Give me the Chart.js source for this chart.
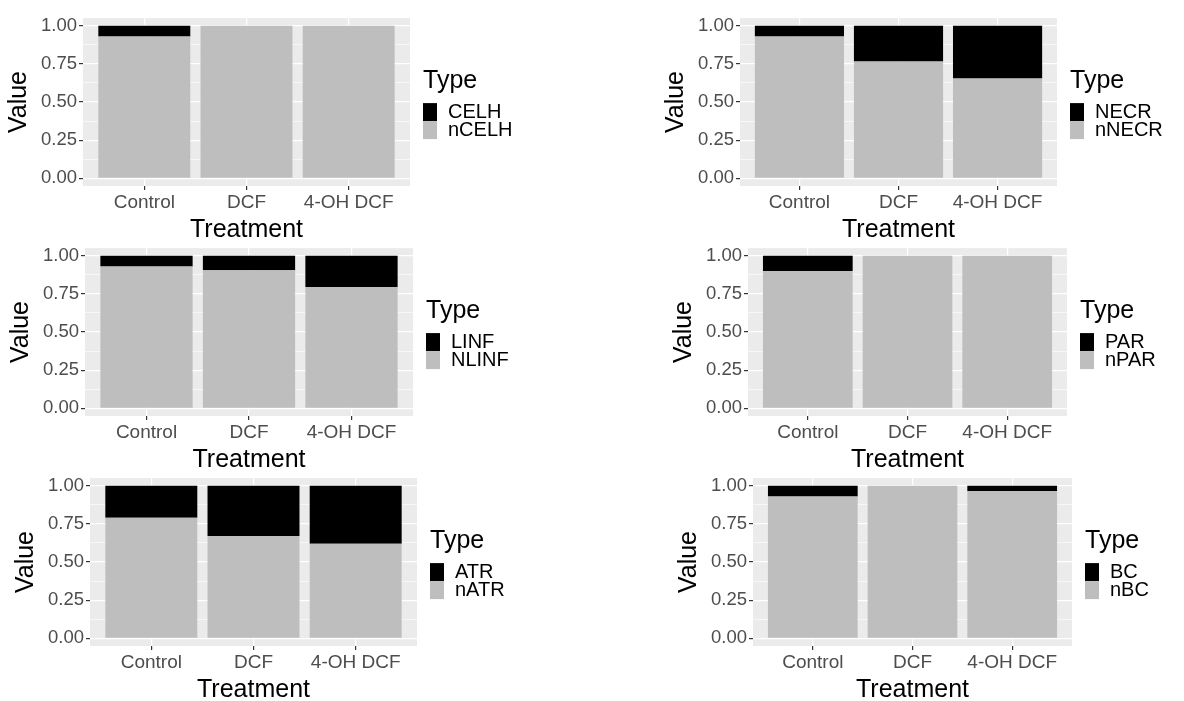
<!DOCTYPE html>
<html>
<head>
<meta charset="utf-8">
<title>Type by Treatment</title>
<script src="https://cdn.jsdelivr.net/npm/chart.js@4.4.1/dist/chart.umd.min.js"></script>
<style>
  body { margin: 0; background: #fff; }
  #panel { position: relative; width: 1184px; height: 701px; overflow: hidden; }
  canvas { position: absolute; }
</style>
</head>
<body>
<div id="panel">
  <canvas id="celhChart"></canvas>
  <canvas id="necrChart"></canvas>
  <canvas id="linfChart"></canvas>
  <canvas id="parChart"></canvas>
  <canvas id="atrChart"></canvas>
  <canvas id="bcChart"></canvas>
</div>
<script>
// Data (proportions per treatment)
const treatments = ['Control', 'DCF', '4-OH DCF'];

const celh = [0.07, 0, 0];
const nCelh = [0.93, 1, 1];

const necr = [0.07, 0.235, 0.345];
const nNecr = [0.93, 0.765, 0.655];

const linf = [0.07, 0.095, 0.205];
const nLinf = [0.93, 0.905, 0.795];

const par = [0.10, 0, 0];
const nPar = [0.90, 1, 1];

const atr = [0.21, 0.33, 0.38];
const nAtr = [0.79, 0.67, 0.62];

const bc = [0.07, 0, 0.035];
const nBc = [0.93, 1, 0.965];

const yTicks = [0, 0.25, 0.5, 0.75, 1];
const yTickLabels = ['0.00', '0.25', '0.50', '0.75', '1.00'];

// Layout constants (px)
const AXIS_Y_W = 83;
const AXIS_X_H = 60;
const TOP_PAD = 10;
const LEGEND_W = 140;
const FONT = '"Liberation Sans", Arial, sans-serif';

Chart.defaults.font.family = FONT;

function isMajor(v) {
    return yTicks.indexOf(v) >= 0;
}

// grey panel background like ggplot
const panelBackground = {
    id: 'panelBackground',
    beforeDraw(chart) {
        const { ctx, chartArea } = chart;
        ctx.save();
        ctx.fillStyle = '#EBEBEB';
        ctx.fillRect(chartArea.left, chartArea.top, chartArea.right - chartArea.left, chartArea.bottom - chartArea.top);
        ctx.restore();
    }
};

// "Type" legend on the right, top item = last dataset
const typeLegend = {
    id: 'typeLegend',
    afterDraw(chart) {
        const { ctx, chartArea } = chart;
        const x = chartArea.right + 13;
        let y = chartArea.top + 85;
        ctx.save();
        ctx.textBaseline = 'middle';
        ctx.textAlign = 'left';
        ctx.fillStyle = '#000';
        ctx.font = '25px ' + FONT;
        ctx.fillText('Type', x, chartArea.top + 63);
        ctx.font = '20px ' + FONT;
        chart.data.datasets.slice().reverse().forEach(ds => {
            ctx.fillStyle = ds.backgroundColor;
            ctx.fillRect(x, y, 14, 18);
            ctx.fillStyle = '#000';
            ctx.fillText(ds.label, x + 25, y + 9);
            y += 18;
        });
        ctx.restore();
    }
};

function makeChart(id, names, yes, no, area) {
    const [x0, y0, x1, y1] = area;
    const canvas = document.getElementById(id);
    canvas.width = (x1 - x0) + AXIS_Y_W + LEGEND_W;
    canvas.height = TOP_PAD + (y1 - y0) + AXIS_X_H;
    canvas.style.left = (x0 - AXIS_Y_W) + 'px';
    canvas.style.top = (y0 - TOP_PAD) + 'px';

    new Chart(canvas, {
        type: 'bar',
        data: {
            datasets: [
                {
                    label: names[1],
                    data: treatments.map((t, i) => ({ x: i + 1, y: no[i] })),
                    backgroundColor: '#BEBEBE'
                },
                {
                    label: names[0],
                    data: treatments.map((t, i) => ({ x: i + 1, y: yes[i] })),
                    backgroundColor: '#000000'
                }
            ]
        },
        options: {
            responsive: false,
            animation: false,
            events: [],
            barPercentage: 0.9,
            categoryPercentage: 1.0,
            borderWidth: 0,
            layout: { padding: { top: TOP_PAD, right: LEGEND_W, left: 0, bottom: 0 } },
            plugins: { legend: { display: false }, tooltip: { enabled: false } },
            scales: {
                x: {
                    type: 'linear',
                    stacked: true,
                    offset: false,
                    min: 0.4,
                    max: 3.6,
                    afterBuildTicks: (scale) => {
                        scale.ticks = treatments.map((t, i) => ({ value: i + 1 }));
                    },
                    afterFit: (scale) => { scale.height = AXIS_X_H; },
                    border: { display: false },
                    grid: { offset: false, color: '#FFFFFF', lineWidth: 1.2, tickColor: '#333333', tickLength: 4 },
                    ticks: {
                        autoSkip: false,
                        maxRotation: 0,
                        padding: 1,
                        color: '#4D4D4D',
                        font: { size: 19 },
                        callback: (v, i) => treatments[i]
                    },
                    title: {
                        display: true,
                        text: 'Treatment',
                        color: '#000',
                        font: { size: 25 },
                        padding: { top: 0, bottom: 1 }
                    }
                },
                y: {
                    stacked: true,
                    min: -0.05,
                    max: 1.05,
                    afterBuildTicks: (scale) => {
                        const t = [];
                        yTicks.forEach((v, i) => {
                            t.push({ value: v });
                            if (i < yTicks.length - 1) t.push({ value: (v + yTicks[i + 1]) / 2 });
                        });
                        scale.ticks = t;
                    },
                    afterFit: (scale) => { scale.width = AXIS_Y_W; },
                    border: { display: false },
                    grid: {
                        color: '#FFFFFF',
                        lineWidth: (c) => isMajor(c.tick.value) ? 1.2 : 0.6,
                        tickColor: (c) => isMajor(c.tick.value) ? '#333333' : 'rgba(0,0,0,0)',
                        tickLength: 4
                    },
                    ticks: {
                        autoSkip: false,
                        padding: 2,
                        color: '#4D4D4D',
                        font: { size: 18.5 },
                        callback: (v) => {
                            const k = yTicks.indexOf(v);
                            return k >= 0 ? yTickLabels[k] : '';
                        }
                    },
                    title: {
                        display: true,
                        text: 'Value',
                        color: '#000',
                        font: { size: 25 },
                        padding: { top: 4, bottom: 0 }
                    }
                }
            }
        },
        plugins: [panelBackground, typeLegend]
    });
}

// Six panels
makeChart('celhChart', ['CELH', 'nCELH'], celh, nCelh, [83, 15, 410, 186]);
makeChart('necrChart', ['NECR', 'nNECR'], necr, nNecr, [740, 15, 1057, 186]);
makeChart('linfChart', ['LINF', 'NLINF'], linf, nLinf, [85, 245, 413, 416]);
makeChart('parChart', ['PAR', 'nPAR'], par, nPar, [748, 245, 1067, 416]);
makeChart('atrChart', ['ATR', 'nATR'], atr, nAtr, [90, 475, 417, 646]);
makeChart('bcChart', ['BC', 'nBC'], bc, nBc, [753, 475, 1072, 646]);
</script>
</body>
</html>
